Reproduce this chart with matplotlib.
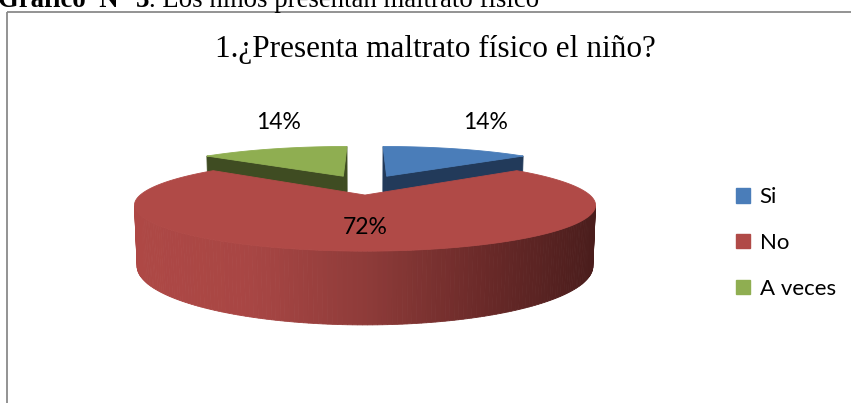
import numpy as np
import matplotlib.pyplot as plt
from matplotlib.patches import Polygon, Rectangle, Patch
from matplotlib.colors import LinearSegmentedColormap

# Datos
categorias = ['Si', 'No', 'A veces']
porcentajes = [14, 72, 14]
colores_sup = ['#4A7DB9', '#B04A47', '#8FAE51']
colores_lado = ['#223A5A', '#8A3A38', '#3F4C22']
etiquetas = ['14%', '72%', '14%']

titulo = '1.¿Presenta maltrato físico el niño?'
encabezado_b = 'Gráfico  N° 3'
encabezado = '. Los niños presentan maltrato físico'

# Parámetros de la vista 3D (coordenadas en píxeles)
cx, cy = 365, 184.7
S = 213          # radio
sen_a = 0.184    # inclinación
cos_a = np.sqrt(1 - sen_a ** 2)
D = cos_a / 0.21 # distancia de la cámara (perspectiva)
h = 0.267        # grosor
e = 0.25         # separación de las porciones

# posición de las etiquetas: distancia radial y desplazamiento vertical (px)
dist_etiq = [1.77, 0.88, 1.17]
desp_etiq = [-15, 0, -28]

grad_rojo = LinearSegmentedColormap.from_list(
    'rojo', ['#AE4845', '#A84644', '#8E3B39', '#6B2A29', '#4A1D1C'])


def proyectar(X, Y, Z):
    yv = Y * sen_a + Z * cos_a
    zv = -Y * cos_a + Z * sen_a
    f = D / (D - zv)
    return cx + S * X * f, cy - S * yv * f


def area(pts):
    x = np.array([p[0] for p in pts])
    y = -np.array([p[1] for p in pts])
    return 0.5 * np.sum(x * np.roll(y, -1) - np.roll(x, -1) * y)


fig = plt.figure(figsize=(8.51, 4.03), dpi=100)
ax = fig.add_axes([0, 0, 1, 1])
ax.set_xlim(0, 851)
ax.set_ylim(403, 0)
ax.axis('off')

# Marco del gráfico
ax.add_patch(Rectangle((7, 12), 900, 500, fill=False, edgecolor='#8A8A8A',
                       linewidth=1.3, clip_on=False))

# Porciones
acum = np.cumsum([0] + porcentajes[:-1])
porciones = []
for i, p in enumerate(porcentajes):
    a2 = 90 - 3.6 * acum[i]
    a1 = a2 - 3.6 * p
    mid = np.radians((a1 + a2) / 2)
    ox, oy = e * np.cos(mid), e * np.sin(mid)
    porciones.append((i, a1, a2, ox, oy))

porciones.sort(key=lambda s: -s[4])

for i, a1, a2, ox, oy in porciones:
    ang = np.radians(np.linspace(a1, a2, max(int(abs(a2 - a1)), 2) + 1))
    caras = []
    # caras radiales
    ct = proyectar(ox, oy, 0)
    cb = proyectar(ox, oy, -h)
    for a, orden in ((ang[0], 1), (ang[-1], -1)):
        ot = proyectar(ox + np.cos(a), oy + np.sin(a), 0)
        ob = proyectar(ox + np.cos(a), oy + np.sin(a), -h)
        pts = [ct, cb, ob, ot] if orden == 1 else [ct, ot, ob, cb]
        if area(pts) > 0:
            caras.append((pts, colores_lado[i]))
    # pared exterior
    for k in range(len(ang) - 1):
        pa, pb = ang[k], ang[k + 1]
        t_a = proyectar(ox + np.cos(pa), oy + np.sin(pa), 0)
        t_b = proyectar(ox + np.cos(pb), oy + np.sin(pb), 0)
        b_a = proyectar(ox + np.cos(pa), oy + np.sin(pa), -h)
        b_b = proyectar(ox + np.cos(pb), oy + np.sin(pb), -h)
        pts = [t_a, b_a, b_b, t_b]
        if area(pts) > 0:
            if i == 1:
                t = np.clip((t_a[0] - 134) / (596 - 134), 0, 1)
                col = grad_rojo(t)
            else:
                col = colores_lado[i]
            caras.append((pts, col))
    for pts, col in caras:
        ax.add_patch(Polygon(pts, closed=True, facecolor=col, edgecolor=col,
                             linewidth=0.6))
    # cara superior
    sup = [ct] + [proyectar(ox + np.cos(a), oy + np.sin(a), 0) for a in ang]
    ax.add_patch(Polygon(sup, closed=True, facecolor=colores_sup[i],
                         edgecolor=colores_sup[i], linewidth=0.6))

# Etiquetas de datos
for i, a1, a2, ox, oy in porciones:
    mid = np.radians((a1 + a2) / 2)
    u = dist_etiq[i]
    x, y = proyectar(u * np.cos(mid), u * np.sin(mid), 0)
    ax.text(x, y + desp_etiq[i], etiquetas[i], fontsize=16.5, family='Lato',
            ha='center', va='center', color='black')

# Título
ax.text(435, 57, titulo, fontsize=22.5, family='Liberation Serif',
        ha='center', va='baseline')

# Encabezado (cortado en la parte superior, como en el original)
t1 = ax.text(-2, 7, encabezado_b, fontsize=19.3, family='Liberation Serif',
             fontweight='bold', va='baseline', ha='left')
fig.canvas.draw()
bb = t1.get_window_extent().transformed(ax.transData.inverted())
ax.text(bb.x1, 7, encabezado, fontsize=19.3, family='Liberation Serif',
        va='baseline', ha='left')

# Leyenda
manijas = [Patch(facecolor=c, edgecolor=c) for c in colores_sup]
ax.legend(manijas, categorias, loc='center left', frameon=False,
          bbox_to_anchor=(716 / 851, 1 - 243 / 403),
          prop={'family': 'Lato', 'size': 16},
          handlelength=0.62, handleheight=0.62, handletextpad=0.45,
          labelspacing=1.15)

fig.savefig('out.png', dpi=100)
